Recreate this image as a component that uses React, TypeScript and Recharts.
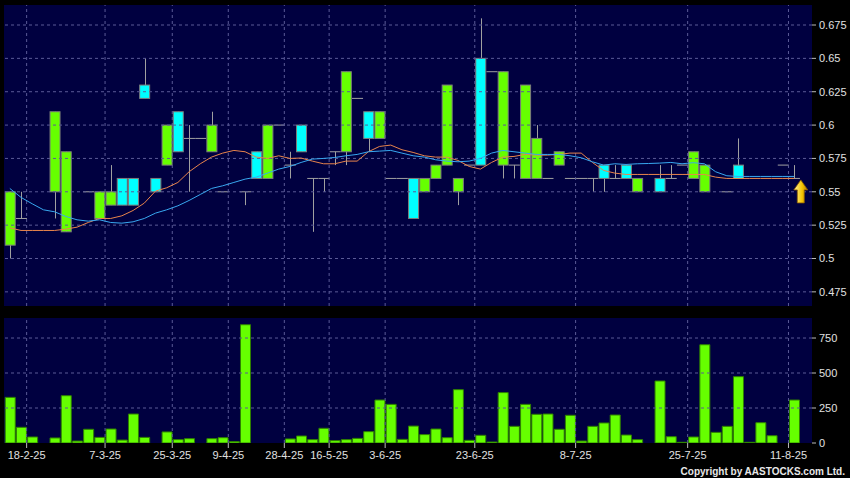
import React from 'react';
import {
  ComposedChart,
  BarChart,
  Bar,
  Line,
  XAxis,
  YAxis,
  CartesianGrid,
  ReferenceDot,
  ReferenceLine,
} from 'recharts';

// one entry per chart slot (71 slots); null = no candle drawn
const opens = [
  0.51, 0.53, null, null, 0.55, 0.52, null, 0.55, 0.53, 0.54,
  0.56, 0.56, 0.63, 0.56, 0.57, 0.61, 0.59, 0.59, 0.58, 0.55,
  null, 0.55, 0.58, 0.56, 0.6, 0.57, 0.6, 0.56, 0.56, 0.58,
  0.58, 0.62, 0.61, 0.59, 0.56, 0.56, 0.56, 0.55, 0.56, 0.57,
  0.55, 0.57, 0.65, 0.64, 0.57, 0.57, 0.56, 0.56, 0.56, 0.57,
  0.56, 0.56, 0.56, 0.57, 0.56, 0.57, 0.55, null, 0.56, 0.56,
  0.57, 0.56, 0.55, null, 0.55, 0.57, null, null, null, 0.57,
  0.56,
];
const highs = [
  0.55, 0.55, null, null, 0.61, 0.58, null, 0.55, 0.55, 0.57,
  0.56, 0.56, 0.65, 0.56, 0.6, 0.61, 0.6, 0.59, 0.61, 0.55,
  null, 0.55, 0.58, 0.6, 0.6, 0.58, 0.6, 0.56, 0.56, 0.58,
  0.64, 0.62, 0.61, 0.61, 0.56, 0.56, 0.56, 0.56, 0.57, 0.63,
  0.56, 0.57, 0.68, 0.64, 0.64, 0.57, 0.63, 0.6, 0.56, 0.58,
  0.56, 0.56, 0.56, 0.57, 0.57, 0.57, 0.56, null, 0.57, 0.57,
  0.57, 0.58, 0.57, null, 0.55, 0.59, null, null, null, 0.57,
  0.57,
];
const lows = [
  0.5, 0.53, null, null, 0.53, 0.52, null, 0.55, 0.53, 0.54,
  0.54, 0.54, 0.62, 0.55, 0.57, 0.58, 0.55, 0.59, 0.58, 0.55,
  null, 0.54, 0.56, 0.56, 0.6, 0.56, 0.58, 0.52, 0.55, 0.57,
  0.57, 0.62, 0.58, 0.59, 0.56, 0.56, 0.53, 0.55, 0.56, 0.57,
  0.54, 0.57, 0.57, 0.64, 0.56, 0.56, 0.56, 0.56, 0.56, 0.57,
  0.56, 0.56, 0.55, 0.55, 0.56, 0.56, 0.55, null, 0.55, 0.56,
  0.57, 0.56, 0.55, null, 0.55, 0.56, null, null, null, 0.57,
  0.56,
];
const closes = [
  0.55, 0.53, null, null, 0.61, 0.58, null, 0.55, 0.55, 0.55,
  0.54, 0.54, 0.62, 0.55, 0.6, 0.58, 0.59, 0.59, 0.6, 0.55,
  null, 0.55, 0.56, 0.6, 0.6, 0.57, 0.58, 0.56, 0.56, 0.58,
  0.64, 0.62, 0.59, 0.61, 0.56, 0.56, 0.53, 0.56, 0.57, 0.63,
  0.56, 0.57, 0.57, 0.64, 0.64, 0.57, 0.63, 0.59, 0.56, 0.58,
  0.56, 0.56, 0.56, 0.56, 0.56, 0.56, 0.56, null, 0.55, 0.56,
  0.57, 0.58, 0.57, null, 0.55, 0.56, null, null, null, 0.57,
  0.56,
];
const maShort = [
  0.523, 0.521, 0.521, 0.521, 0.521, 0.522, 0.5235, 0.527, 0.53, 0.53,
  0.532, 0.536, 0.5415, 0.5505, 0.553, 0.557, 0.565, 0.571, 0.576, 0.579,
  0.581, 0.58, 0.576, 0.575, 0.577, 0.575, 0.5753, 0.573, 0.571, 0.571,
  0.573, 0.573, 0.58, 0.584, 0.585, 0.5815, 0.5795, 0.577, 0.576, 0.576,
  0.5735, 0.569, 0.567, 0.572, 0.576, 0.5765, 0.578, 0.5775, 0.5775, 0.578,
  0.579, 0.579, 0.572, 0.566, 0.564, 0.563, 0.563, 0.563, 0.563, 0.563,
  0.563, 0.563, 0.563, 0.561, 0.56, 0.56, 0.56, 0.56, 0.56, 0.56,
  0.56,
];
const maLong = [
  0.5525, 0.5458, 0.541, 0.5365, 0.535, 0.5315, 0.529, 0.528, 0.529, 0.527,
  0.5265, 0.5275, 0.53, 0.534, 0.5365, 0.5395, 0.5435, 0.548, 0.5525, 0.5545,
  0.557, 0.5595, 0.561, 0.564, 0.567, 0.569, 0.572, 0.5745, 0.575, 0.5757,
  0.577, 0.578, 0.58, 0.5805, 0.581, 0.579, 0.577, 0.576, 0.574, 0.573,
  0.5725, 0.573, 0.575, 0.579, 0.581, 0.58, 0.579, 0.578, 0.578, 0.578,
  0.577, 0.5755, 0.5725, 0.57, 0.571, 0.5705, 0.571, 0.5712, 0.5715, 0.572,
  0.571, 0.5718, 0.571, 0.565, 0.562, 0.5615, 0.5615, 0.5615, 0.5615, 0.5615,
  0.5615,
];
const volumes = [
  326, 112, 43, 0, 36, 338, 14, 98, 40, 100,
  21, 207, 40, 0, 79, 24, 31, 0, 31, 38,
  10, 845, 0, 0, 0, 29, 50, 24, 105, 17,
  24, 33, 81, 307, 276, 26, 121, 60, 100, 38,
  381, 19, 55, 7, 360, 119, 276, 205, 207, 98,
  198, 14, 119, 143, 200, 57, 24, 0, 443, 45,
  5, 43, 702, 76, 119, 474, 5, 145, 52, 0,
  307,
];

// date labels and the slot each one starts
const dateLabels = ['18-2-25', '7-3-25', '25-3-25', '9-4-25', '28-4-25', '16-5-25', '3-6-25', '23-6-25', '8-7-25', '25-7-25', '11-8-25'];
const dateSlots = [3, 10, 16, 21, 26, 30, 35, 43, 52, 62, 71];

const priceTicks = [0.475, 0.5, 0.525, 0.55, 0.575, 0.6, 0.625, 0.65, 0.675];
const volumeTicks = [0, 250, 500, 750];

const rows = volumes.map((vol, k) => ({
  i: k + 1,
  o: opens[k],
  h: highs[k],
  l: lows[k],
  c: closes[k],
  ma1: maShort[k],
  ma2: maLong[k],
  vol,
}));

// grid lines / ticks sit on the boundary before each labelled slot
const boundaryTicks = dateSlots.map((s) => s - 0.5);
const X_DOMAIN: [number, number] = [0.48, 72.6];

const UP = '#66FF00';
const DOWN = '#00FFFF';
const WICK = '#a0a0a0';
const PLOT_BG = '#000040';
const GRID = '#5a5a96';
const TEXT = '#e0e0e0';
const FONT = 'Arial, "Liberation Sans", sans-serif';

function Candle(props: any) {
  const { x, y, width, height, payload } = props;
  if (!payload || payload.h == null) return null;
  const top = Math.min(y, y + height);
  const bottom = Math.max(y, y + height);
  const span = payload.h - payload.l;
  const k = span > 0 ? (bottom - top) / span : 0;
  const py = (v: number) => top + (payload.h - v) * k;
  const cx = Math.round(x + width / 2) + 0.5;
  const hi = Math.max(payload.o, payload.c);
  const lo = Math.min(payload.o, payload.c);
  const flat = payload.o === payload.c;
  return (
    <g>
      {span > 0 && <line x1={cx} x2={cx} y1={py(payload.h)} y2={py(payload.l)} stroke={WICK} strokeWidth={1} />}
      {flat ? (
        <line x1={x - 0.5} x2={x + width + 0.5} y1={py(hi)} y2={py(hi)} stroke={WICK} strokeWidth={1} />
      ) : (
        <rect
          x={x}
          y={py(hi)}
          width={width}
          height={py(lo) - py(hi)}
          fill={payload.c > payload.o ? UP : DOWN}
          stroke="#7c7c7c"
          strokeWidth={1}
        />
      )}
    </g>
  );
}

function UpArrow(props: any) {
  const { cx, cy } = props;
  const pts = [
    [cx, cy],
    [cx + 7, cy + 10],
    [cx + 3.5, cy + 10],
    [cx + 3.5, cy + 23],
    [cx - 3.5, cy + 23],
    [cx - 3.5, cy + 10],
    [cx - 7, cy + 10],
  ]
    .map((p) => p.join(','))
    .join(' ');
  return (
    <g>
      <defs>
        <linearGradient id="arrowGold" x1="0" y1="0" x2="1" y2="0">
          <stop offset="0%" stopColor="#fff3a0" />
          <stop offset="60%" stopColor="#f5c400" />
          <stop offset="100%" stopColor="#b07800" />
        </linearGradient>
      </defs>
      <polygon points={pts} fill="url(#arrowGold)" stroke="#8a5a00" strokeWidth={0.8} />
    </g>
  );
}

const axisTick = { fill: TEXT, fontSize: 11, fontFamily: FONT };

function gridLines(yTicks: number[]) {
  return [
    ...boundaryTicks.map((t) => (
      <ReferenceLine key={`gx${t}`} x={t} stroke={GRID} strokeDasharray="3 3" />
    )),
    ...yTicks.map((t) => (
      <ReferenceLine key={`gy${t}`} y={t} stroke={GRID} strokeDasharray="3 3" />
    )),
  ];
}

export default function App() {
  return (
    <div style={{ position: 'relative', width: 850, height: 478, background: '#000' }}>
      <style>{'body{margin:0;background:#000}'}</style>
      <ComposedChart width={850} height={310} data={rows} margin={{ top: 5, right: 0, bottom: 4, left: 4 }}>
        <CartesianGrid fill={PLOT_BG} horizontal={false} vertical={false} />
        <XAxis
          dataKey="i"
          type="number"
          domain={X_DOMAIN}
          ticks={boundaryTicks}
          allowDataOverflow
          height={0}
          tick={false}
          tickLine={false}
          axisLine={false}
        />
        <YAxis
          orientation="right"
          width={38}
          domain={[0.4644, 0.69]}
          ticks={priceTicks}
          allowDataOverflow
          tick={axisTick}
          tickSize={4}
          tickMargin={3}
          tickLine={{ stroke: '#bbbbbb' }}
          axisLine={false}
        />
        {gridLines(priceTicks)}
        <Line dataKey="ma1" stroke="#e8844c" strokeWidth={1} dot={false} isAnimationActive={false} />
        <Line dataKey="ma2" stroke="#38a8f0" strokeWidth={1} dot={false} isAnimationActive={false} />
        <Bar
          dataKey={(d: any) => (d.h == null ? null : [d.l, d.h])}
          barSize={10}
          shape={<Candle />}
          isAnimationActive={false}
        />
        <ReferenceDot x={71.6} y={0.5589} r={0} shape={UpArrow} />
      </ComposedChart>
      <BarChart width={850} height={168} data={rows} margin={{ top: 8, right: 0, bottom: 0, left: 4 }}>
        <CartesianGrid fill={PLOT_BG} horizontal={false} vertical={false} />
        <XAxis
          dataKey="i"
          type="number"
          domain={X_DOMAIN}
          ticks={boundaryTicks}
          allowDataOverflow
          interval={0}
          height={35}
          tick={axisTick}
          tickFormatter={(v: number) => dateLabels[boundaryTicks.indexOf(v)] ?? ''}
          tickSize={5}
          tickMargin={3}
          tickLine={{ stroke: '#bbbbbb' }}
          axisLine={false}
        />
        <YAxis
          orientation="right"
          width={38}
          domain={[0, 893]}
          ticks={volumeTicks}
          allowDataOverflow
          tick={axisTick}
          tickSize={4}
          tickMargin={3}
          tickLine={{ stroke: '#bbbbbb' }}
          axisLine={false}
        />
        {gridLines(volumeTicks.filter((t) => t > 0))}
        <Bar dataKey="vol" barSize={10} fill={UP} stroke="#2f8000" strokeWidth={1} isAnimationActive={false} />
      </BarChart>
      <div
        style={{
          position: 'absolute',
          right: 5,
          top: 465,
          color: '#e8e8e8',
          fontFamily: FONT,
          fontSize: 10,
          fontWeight: 'bold',
          lineHeight: '13px',
        }}
      >
        Copyright by AASTOCKS.com Ltd.
      </div>
    </div>
  );
}
